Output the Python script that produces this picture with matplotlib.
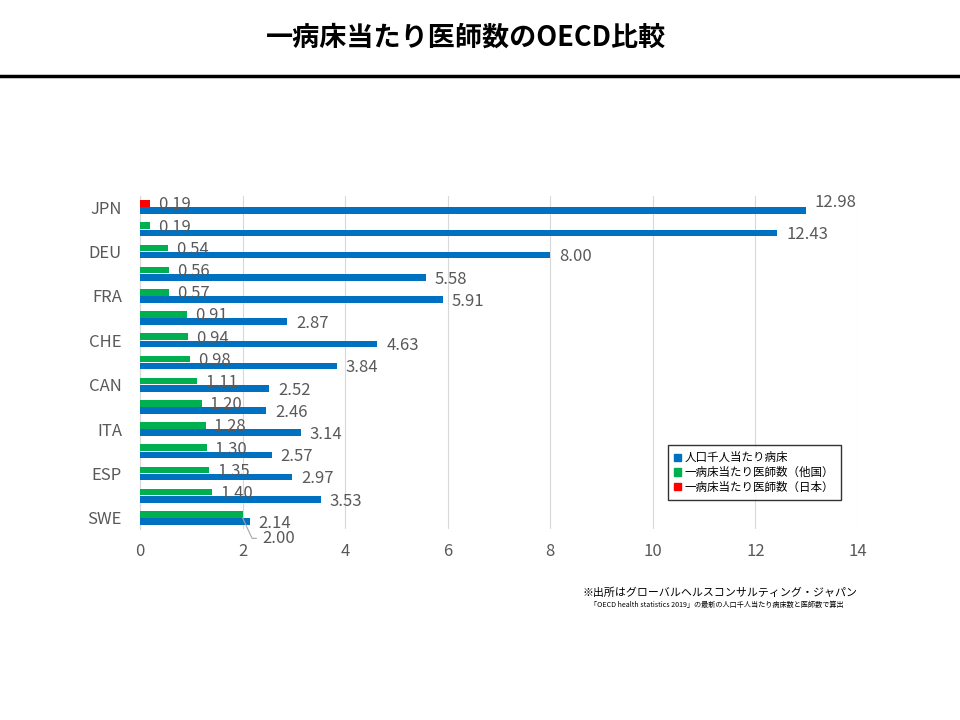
import matplotlib
matplotlib.use("Agg")
import matplotlib.pyplot as plt
from matplotlib.patches import Patch
from matplotlib.lines import Line2D
import numpy as np

plt.rcParams['font.family'] = ['Noto Sans CJK JP', 'DejaVu Sans']

# data
countries = ['JPN', 'KOR', 'DEU', 'BEL', 'FRA', 'USA', 'CHE', 'AUS',
             'CAN', 'GBR', 'ITA', 'NZL', 'ESP', 'NOR', 'SWE']
beds = [12.98, 12.43, 8.00, 5.58, 5.91, 2.87, 4.63, 3.84,
        2.52, 2.46, 3.14, 2.57, 2.97, 3.53, 2.14]
docs_per_bed = [0.19, 0.19, 0.54, 0.56, 0.57, 0.91, 0.94, 0.98,
                1.11, 1.20, 1.28, 1.30, 1.35, 1.40, 2.00]
legend_labels = ['人口千人当たり病床', '一病床当たり医師数（他国）', '一病床当たり医師数（日本）']

BLUE = '#0070C0'
GREEN = '#00B050'
RED = '#FF0000'
GREY = '#595959'

fig = plt.figure(figsize=(9.6, 7.2), dpi=100)

# title and rule
fig.text(0.486, 0.948, '一病床当たり医師数のOECD比較', ha='center', va='center',
         fontsize=19.5, fontweight='bold', color='black')
fig.add_artist(Line2D([0, 1], [1 - 76 / 720, 1 - 76 / 720], color='black', lw=2.5))

ax = fig.add_axes([140 / 960, 1 - 529 / 720, 718 / 960, 333 / 720])

y = np.arange(len(countries))
h = 0.3
doc_colors = [RED if c == 'JPN' else GREEN for c in countries]
ax.barh(y - 0.16, docs_per_bed, height=h, color=doc_colors, zorder=3)
ax.barh(y + 0.16, beds, height=h, color=BLUE, zorder=3)

# data labels
for i, (d, b) in enumerate(zip(docs_per_bed, beds)):
    if i == len(countries) - 1:
        ax.annotate('%.2f' % d, xy=(d, i - 0.0), xytext=(d + 0.38, i + 0.92),
                    fontsize=12, color=GREY, va='center', ha='left',
                    arrowprops=dict(arrowstyle='-', color='#A6A6A6', lw=0.8,
                                    connectionstyle='angle,angleA=0,angleB=-65,rad=0',
                                    shrinkA=2, shrinkB=0))
    else:
        ax.text(d + 0.16, i - 0.1, '%.2f' % d, fontsize=12, color=GREY,
                va='center', ha='left', zorder=4)
    by = i + 0.24 if i > 0 else i - 0.22
    ax.text(b + 0.17, by, '%.2f' % b, fontsize=12, color=GREY,
            va='center', ha='left', zorder=4)

ax.set_xlim(0, 14)
ax.set_ylim(len(countries) - 0.5, -0.5)
ax.set_xticks(range(0, 15, 2))
ax.set_yticks(y)
ax.set_yticklabels([c if i % 2 == 0 else '' for i, c in enumerate(countries)])
ax.tick_params(axis='both', length=0, labelsize=12, labelcolor=GREY)
ax.tick_params(axis='x', pad=10)
ax.tick_params(axis='y', pad=13)
ax.grid(axis='x', color='#D9D9D9', lw=0.8, zorder=0)
for s in ['top', 'right', 'bottom']:
    ax.spines[s].set_visible(False)
ax.spines['left'].set_color('#D9D9D9')

handles = [Patch(color=BLUE), Patch(color=GREEN), Patch(color=RED)]
leg = fig.legend(handles, legend_labels, loc='upper left',
                 bbox_to_anchor=(668 / 960, 1 - 445 / 720), fontsize=8.3,
                 frameon=True, fancybox=False, edgecolor='black',
                 handlelength=0.6, handleheight=0.6, handletextpad=0.3,
                 labelspacing=0.15, borderpad=0.55, borderaxespad=0)
leg.get_frame().set_linewidth(1.0)

# source notes
fig.text(858 / 960, 1 - 593 / 720, '※出所はグローバルヘルスコンサルティング・ジャパン',
         ha='right', va='center', fontsize=7.9, color='black')
fig.text(590 / 960, 1 - 605 / 720,
         '「OECD health statistics 2019」の最新の人口千人当たり病床数と医師数で算出',
         ha='left', va='center', fontsize=5.1, color='black')

fig.savefig('out.png', dpi=100)
